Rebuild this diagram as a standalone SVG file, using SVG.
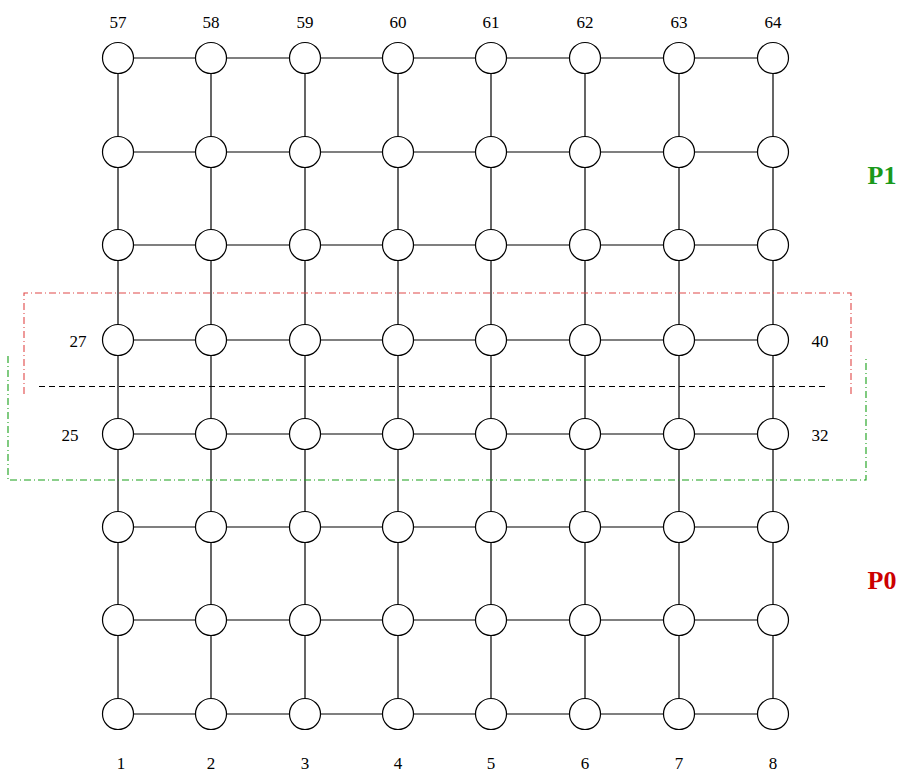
<svg xmlns="http://www.w3.org/2000/svg" width="904" height="776" viewBox="0 0 904 776">
<style>
.n{fill:#fff;stroke:#000;stroke-width:1.2}
.e{stroke:#000;stroke-width:1.2;fill:none}
.t{font-family:"Liberation Serif",serif;font-size:17px;fill:#000;text-anchor:middle}
.p{font-family:"Liberation Serif",serif;font-size:26px;font-weight:bold;text-anchor:middle}
</style>
<rect width="904" height="776" fill="#fff"/>
<g id="connectors" class="e">
<path d="M118,58H773M118,152H773M118,245H773M118,340H773M118,434H773M118,527H773M118,620H773M118,714H773"/>
<path d="M118,58V714M211,58V714M305,58V714M398,58V714M491,58V714M585,58V714M679,58V714M773,58V714"/>
</g>
<g id="partitions" fill="none">
<path d="M24,394V293H851V394" stroke="#e04848" stroke-width="1.1" stroke-dasharray="7,3,1,3"/>
<path d="M8,356V480H866V357" stroke="#18a018" stroke-width="1.1" stroke-dasharray="7,3,1,3"/>
<path d="M39,386.5H828" stroke="#000" stroke-width="1" stroke-dasharray="6,4"/>
</g>
<g id="nodes">
<g id="r8"><circle class="n" cx="118" cy="58" r="15.5"/><circle class="n" cx="211" cy="58" r="15.5"/><circle class="n" cx="305" cy="58" r="15.5"/><circle class="n" cx="398" cy="58" r="15.5"/><circle class="n" cx="491" cy="58" r="15.5"/><circle class="n" cx="585" cy="58" r="15.5"/><circle class="n" cx="679" cy="58" r="15.5"/><circle class="n" cx="773" cy="58" r="15.5"/></g>
<g id="r7"><circle class="n" cx="118" cy="152" r="15.5"/><circle class="n" cx="211" cy="152" r="15.5"/><circle class="n" cx="305" cy="152" r="15.5"/><circle class="n" cx="398" cy="152" r="15.5"/><circle class="n" cx="491" cy="152" r="15.5"/><circle class="n" cx="585" cy="152" r="15.5"/><circle class="n" cx="679" cy="152" r="15.5"/><circle class="n" cx="773" cy="152" r="15.5"/></g>
<g id="r6"><circle class="n" cx="118" cy="245" r="15.5"/><circle class="n" cx="211" cy="245" r="15.5"/><circle class="n" cx="305" cy="245" r="15.5"/><circle class="n" cx="398" cy="245" r="15.5"/><circle class="n" cx="491" cy="245" r="15.5"/><circle class="n" cx="585" cy="245" r="15.5"/><circle class="n" cx="679" cy="245" r="15.5"/><circle class="n" cx="773" cy="245" r="15.5"/></g>
<g id="r5"><circle class="n" cx="118" cy="340" r="15.5"/><circle class="n" cx="211" cy="340" r="15.5"/><circle class="n" cx="305" cy="340" r="15.5"/><circle class="n" cx="398" cy="340" r="15.5"/><circle class="n" cx="491" cy="340" r="15.5"/><circle class="n" cx="585" cy="340" r="15.5"/><circle class="n" cx="679" cy="340" r="15.5"/><circle class="n" cx="773" cy="340" r="15.5"/></g>
<g id="r4"><circle class="n" cx="118" cy="434" r="15.5"/><circle class="n" cx="211" cy="434" r="15.5"/><circle class="n" cx="305" cy="434" r="15.5"/><circle class="n" cx="398" cy="434" r="15.5"/><circle class="n" cx="491" cy="434" r="15.5"/><circle class="n" cx="585" cy="434" r="15.5"/><circle class="n" cx="679" cy="434" r="15.5"/><circle class="n" cx="773" cy="434" r="15.5"/></g>
<g id="r3"><circle class="n" cx="118" cy="527" r="15.5"/><circle class="n" cx="211" cy="527" r="15.5"/><circle class="n" cx="305" cy="527" r="15.5"/><circle class="n" cx="398" cy="527" r="15.5"/><circle class="n" cx="491" cy="527" r="15.5"/><circle class="n" cx="585" cy="527" r="15.5"/><circle class="n" cx="679" cy="527" r="15.5"/><circle class="n" cx="773" cy="527" r="15.5"/></g>
<g id="r2"><circle class="n" cx="118" cy="620" r="15.5"/><circle class="n" cx="211" cy="620" r="15.5"/><circle class="n" cx="305" cy="620" r="15.5"/><circle class="n" cx="398" cy="620" r="15.5"/><circle class="n" cx="491" cy="620" r="15.5"/><circle class="n" cx="585" cy="620" r="15.5"/><circle class="n" cx="679" cy="620" r="15.5"/><circle class="n" cx="773" cy="620" r="15.5"/></g>
<g id="r1"><circle class="n" cx="118" cy="714" r="15.5"/><circle class="n" cx="211" cy="714" r="15.5"/><circle class="n" cx="305" cy="714" r="15.5"/><circle class="n" cx="398" cy="714" r="15.5"/><circle class="n" cx="491" cy="714" r="15.5"/><circle class="n" cx="585" cy="714" r="15.5"/><circle class="n" cx="679" cy="714" r="15.5"/><circle class="n" cx="773" cy="714" r="15.5"/></g>
</g>
<g id="labels">
<text class="t" x="118" y="28">57</text><text class="t" x="211" y="28">58</text><text class="t" x="305" y="28">59</text><text class="t" x="398" y="28">60</text><text class="t" x="491" y="28">61</text><text class="t" x="585" y="28">62</text><text class="t" x="679" y="28">63</text><text class="t" x="773" y="28">64</text>
<text class="t" x="121" y="769">1</text><text class="t" x="211" y="769">2</text><text class="t" x="305" y="769">3</text><text class="t" x="398" y="769">4</text><text class="t" x="491" y="769">5</text><text class="t" x="585" y="769">6</text><text class="t" x="679" y="769">7</text><text class="t" x="773" y="769">8</text>
<text class="t" x="78" y="347">27</text><text class="t" x="70" y="441">25</text>
<text class="t" x="820" y="347">40</text><text class="t" x="820" y="441">32</text>
<text class="p" x="882" y="184" fill="#1a991a">P1</text>
<text class="p" x="882" y="589" fill="#cc0000">P0</text>
</g>
</svg>
